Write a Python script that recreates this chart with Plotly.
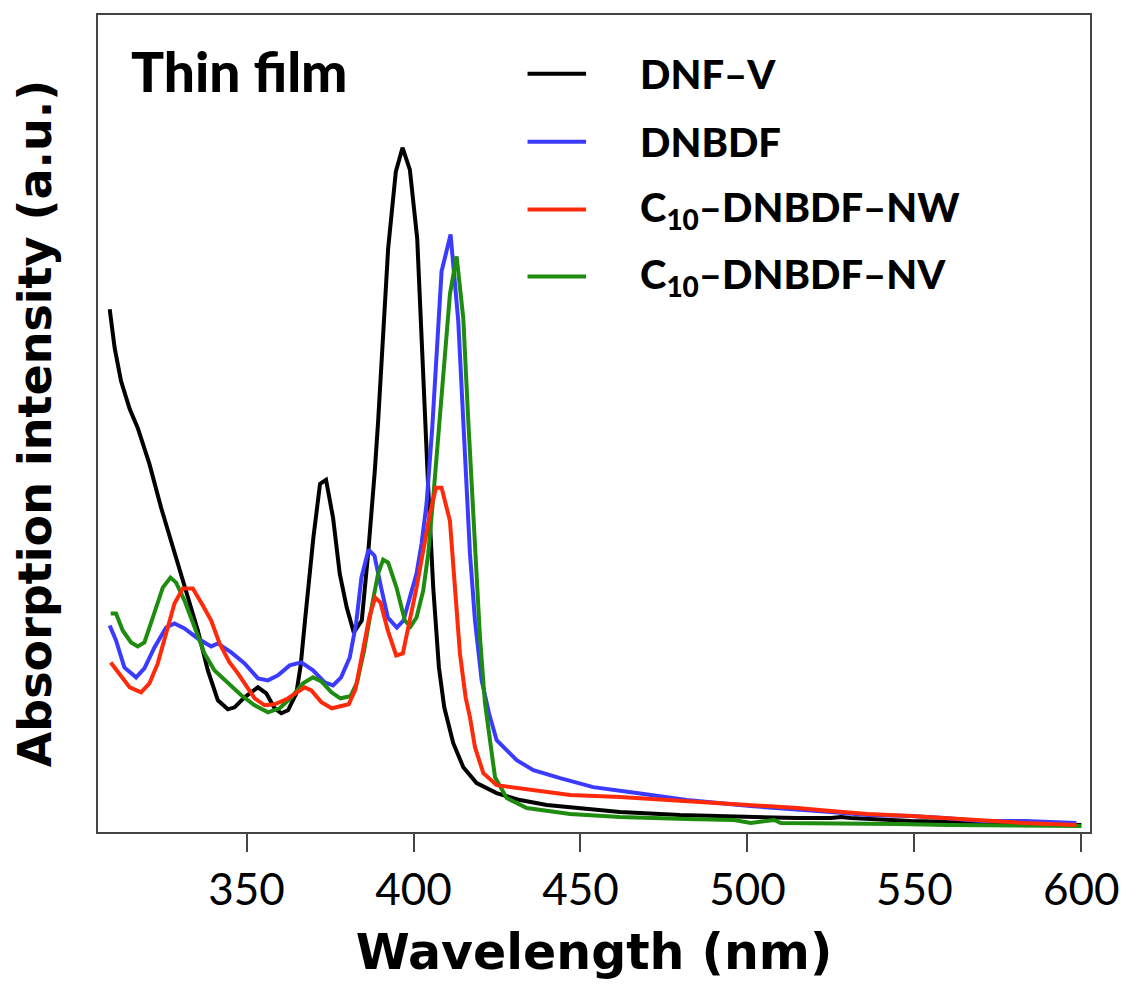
import plotly.graph_objects as go

# ---------------- data (arbitrary units) ----------------
series_names = ["DNF–V", "DNBDF", "C<sub>10</sub>–DNBDF–NW", "C<sub>10</sub>–DNBDF–NV"]
series_colors = ["#000000", "#3b3bff", "#ff2a0a", "#1e8c0e"]

dnfv_wl = [309.0, 310.5, 312.4, 315.0, 317.4, 320.9, 324.4, 328.4, 332.4, 335.4, 338.4, 341.4,
           344.4, 346.4, 349.4, 353.4, 355.9, 358.4, 360.4, 362.4, 364.9, 366.2, 367.5, 370.0,
           372.0, 373.8, 375.9, 377.9, 380.0, 382.1, 384.5, 386.4, 388.4, 389.4, 392.4, 394.7,
           396.7, 398.9, 401.1, 403.4, 404.4, 405.9, 407.6, 409.2, 411.9, 414.9, 418.9, 424.9,
           431.9, 439.9, 449.9, 461.8, 479.8, 500.9, 508.0, 515.0, 525.0, 528.0, 531.0, 549.0,
           563.0, 578.0, 590.0, 600.0]
dnfv_ab = [5.24, 4.85, 4.52, 4.24, 4.05, 3.69, 3.25, 2.79, 2.35, 2.02, 1.62, 1.32,
           1.23, 1.25, 1.35, 1.45, 1.39, 1.24, 1.19, 1.22, 1.39, 1.67, 2.12, 2.95,
           3.49, 3.53, 3.15, 2.59, 2.25, 2.00, 2.12, 2.79, 3.62, 4.12, 5.85, 6.62,
           6.86, 6.64, 5.95, 4.12, 3.45, 2.45, 1.65, 1.25, 0.89, 0.65, 0.49, 0.39,
           0.32, 0.27, 0.24, 0.20, 0.17, 0.15, 0.14, 0.14, 0.14, 0.15, 0.14, 0.11,
           0.10, 0.09, 0.08, 0.07]

dnbdf_wl = [309.0, 310.9, 313.4, 316.9, 319.4, 322.4, 325.9, 328.4, 331.4, 335.4, 339.4, 341.4,
            345.4, 349.4, 353.4, 356.4, 359.4, 362.9, 366.4, 369.9, 373.4, 375.9, 378.3, 380.9,
            382.8, 384.4, 386.5, 388.3, 390.3, 392.3, 395.0, 397.0, 399.3, 400.9, 402.4, 403.9,
            405.6, 408.4, 411.1, 413.4, 414.9, 415.9, 416.9, 418.4, 420.4, 422.6, 424.9, 430.9,
            435.9, 443.9, 453.8, 466.8, 481.8, 500.9, 515.0, 525.0, 536.0, 549.0, 559.0, 570.0,
            583.0, 590.0, 598.5]
dnbdf_ab = [2.07, 1.92, 1.65, 1.55, 1.64, 1.85, 2.05, 2.09, 2.04, 1.94, 1.86, 1.89,
            1.80, 1.69, 1.54, 1.52, 1.57, 1.67, 1.70, 1.62, 1.50, 1.47, 1.55, 1.75,
            2.09, 2.55, 2.83, 2.77, 2.45, 2.15, 2.05, 2.12, 2.40, 2.59, 2.89, 3.29,
            4.05, 5.62, 5.99, 5.12, 4.12, 3.45, 2.79, 2.12, 1.52, 1.19, 0.92, 0.72,
            0.62, 0.54, 0.45, 0.39, 0.32, 0.26, 0.23, 0.20, 0.17, 0.16, 0.14, 0.11,
            0.11, 0.10, 0.09]

nw_wl = [309.3, 311.9, 315.0, 318.4, 320.9, 323.4, 325.9, 328.4, 330.9, 333.9, 336.9, 339.4,
         341.9, 344.9, 347.4, 349.9, 352.4, 355.4, 358.4, 361.9, 364.9, 367.4, 369.4, 372.4,
         375.5, 378.5, 380.6, 382.6, 384.8, 386.8, 388.5, 390.1, 392.3, 394.8, 396.8, 399.1,
         400.9, 402.9, 404.9, 406.7, 408.4, 410.9, 412.4, 413.9, 415.6, 416.9, 418.4, 420.9,
         424.9, 431.9, 446.9, 461.8, 481.8, 500.9, 505.0, 515.0, 525.0, 536.0, 549.0, 559.0,
         570.0, 583.0, 598.5]
nw_ab = [1.70, 1.59, 1.45, 1.40, 1.49, 1.69, 1.99, 2.29, 2.44, 2.44, 2.27, 2.12,
         1.89, 1.70, 1.59, 1.47, 1.34, 1.27, 1.28, 1.33, 1.40, 1.45, 1.42, 1.30,
         1.24, 1.26, 1.28, 1.43, 1.82, 2.16, 2.35, 2.30, 2.02, 1.77, 1.79, 2.14,
         2.45, 2.82, 3.19, 3.45, 3.45, 3.12, 2.45, 1.79, 1.35, 1.15, 0.85, 0.59,
         0.47, 0.44, 0.37, 0.35, 0.31, 0.27, 0.26, 0.24, 0.21, 0.18, 0.16, 0.14,
         0.11, 0.09, 0.07]

nv_wl = [309.3, 310.9, 312.9, 315.4, 317.4, 319.4, 321.9, 324.9, 327.2, 328.9, 331.4, 334.4,
         337.4, 340.4, 344.4, 348.4, 352.4, 356.4, 359.9, 363.4, 366.9, 369.9, 372.4, 375.4,
         378.1, 381.1, 383.1, 385.2, 387.6, 389.4, 390.9, 392.4, 394.9, 397.4, 399.1, 400.9,
         402.9, 404.4, 405.9, 407.8, 410.9, 412.9, 414.9, 416.4, 417.4, 418.4, 419.9, 421.4,
         422.4, 424.4, 427.9, 433.9, 446.9, 461.8, 481.8, 496.0, 501.0, 508.0, 510.0, 530.0,
         545.0, 560.0, 578.0, 590.0, 600.0]
nv_ab = [2.19, 2.19, 2.02, 1.90, 1.86, 1.90, 2.15, 2.45, 2.55, 2.50, 2.32, 2.05,
         1.79, 1.62, 1.49, 1.37, 1.27, 1.20, 1.24, 1.35, 1.49, 1.55, 1.51, 1.40,
         1.34, 1.36, 1.50, 1.82, 2.28, 2.59, 2.73, 2.70, 2.45, 2.12, 2.06, 2.15,
         2.42, 2.79, 3.35, 4.12, 5.39, 5.77, 5.15, 4.12, 3.45, 2.79, 1.95, 1.29,
         1.02, 0.55, 0.34, 0.24, 0.18, 0.15, 0.13, 0.12, 0.09, 0.12, 0.09, 0.09,
         0.08, 0.07, 0.07, 0.06, 0.06]

x_ticks = [350, 400, 450, 500, 550, 600]
x_range = [305.5, 602.6]
y_range = [0, 8.19]
panel_label = "Thin film"
x_title = "Wavelength (nm)"
y_title = "Absorption intensity (a.u.)"

# ---------------- figure ----------------
FONT = "Lato"
TITLE_FONT = "DejaVu Sans"
fig = go.Figure()
draw_order = [(dnfv_wl, dnfv_ab, 0), (dnbdf_wl, dnbdf_ab, 1), (nv_wl, nv_ab, 3), (nw_wl, nw_ab, 2)]
for wl, ab, i in draw_order:
    fig.add_trace(go.Scatter(x=wl, y=ab, mode="lines", name=series_names[i],
                             line=dict(color=series_colors[i], width=4),
                             showlegend=False))

# manual legend (line samples + labels) in paper coordinates
leg_rows = [0.928, 0.845, 0.762, 0.680]
for i, yy in enumerate(leg_rows):
    fig.add_shape(type="line", xref="paper", yref="paper", x0=0.433, x1=0.492, y0=yy, y1=yy,
                  line=dict(color=series_colors[i], width=4))
    fig.add_annotation(xref="paper", yref="paper", x=0.544, y=yy, text=series_names[i],
                       showarrow=False, xanchor="left", yanchor="middle",
                       font=dict(family=FONT, size=40, color="black", weight=900))

fig.add_annotation(xref="paper", yref="paper", x=0.031, y=0.932, text=panel_label,
                   showarrow=False, xanchor="left", yanchor="middle",
                   font=dict(family=FONT, size=55, color="black", weight=900))

axis_line = dict(showline=True, linecolor="#444444", linewidth=2, mirror=True,
                 showgrid=False, zeroline=False)
fig.update_xaxes(range=x_range, tickvals=x_ticks, ticks="outside", ticklen=18, tickwidth=2,
                 tickcolor="#444444", tickfont=dict(family=FONT, size=44, color="black"),
                 title=dict(text=x_title, standoff=22,
                            font=dict(family=TITLE_FONT, size=49, color="black", weight="bold")),
                 **axis_line)
fig.update_yaxes(range=y_range, showticklabels=False, ticks="",
                 title=dict(text=y_title, standoff=38,
                            font=dict(family=TITLE_FONT, size=46, color="black", weight="bold")),
                 **axis_line)

# page body has an 8px margin: shrink the figure so the plot box lands where the reference has it
fig.update_layout(width=1130, height=976, margin=dict(l=90, r=48, t=5, b=152),
                  paper_bgcolor="white", plot_bgcolor="white", showlegend=False)

fig.write_html("out.html")
